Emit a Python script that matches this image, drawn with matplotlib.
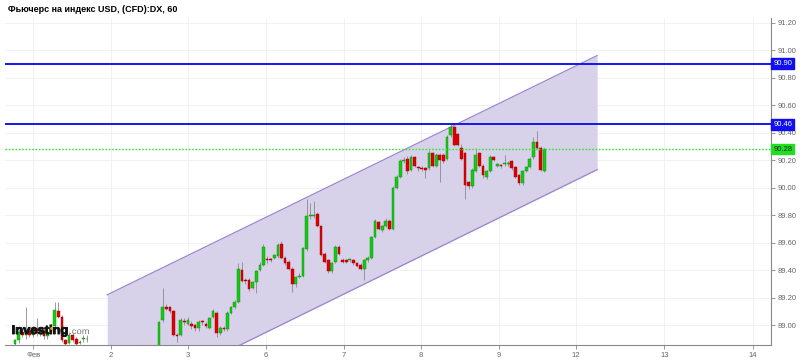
import numpy as np
import matplotlib
matplotlib.use("Agg")
import matplotlib.pyplot as plt
from matplotlib.textpath import TextPath
from matplotlib.patches import PathPatch
from matplotlib.font_manager import FontProperties
from matplotlib.lines import Line2D
import matplotlib.transforms as mtransforms

plt.rcParams['font.family'] = ['Liberation Sans', 'DejaVu Sans']

title = "Фьючерс на индекс USD, (CFD):DX, 60"

# первая сессия (1 фев), потом дыра в данных, потом основной кусок
open_a = [88.86, 88.89, 88.95, 88.93, 88.96, 88.93, 88.97, 88.94, 88.96, 88.92, 88.95,
          88.99, 89.10, 89.06, 88.89, 88.87, 88.93, 88.90, 88.87, 88.90, 88.90]
high_a = [88.90, 88.97, 88.97, 89.13, 88.98, 88.99, 89.05, 88.98, 88.98, 88.96, 89.01,
          89.17, 89.17, 89.07, 88.90, 88.95, 88.94, 88.91, 88.89, 88.93, 88.93]
low_a = [88.85, 88.87, 88.91, 88.90, 88.91, 88.91, 88.92, 88.92, 88.90, 88.90, 88.94,
         88.98, 89.05, 88.88, 88.85, 88.86, 88.88, 88.85, 88.86, 88.88, 88.88]
close_a = [88.89, 88.95, 88.93, 88.96, 88.93, 88.97, 88.94, 88.96, 88.92, 88.95, 88.99,
           89.11, 89.06, 88.89, 88.86, 88.93, 88.89, 88.86, 88.875, 88.905, 88.895]
gap_len = 19

open_b = [88.84, 89.04, 89.13, 89.13, 89.10, 88.93, 88.93, 89.03, 89.01, 89.01,
          89.00, 88.98, 89.03, 89.01, 88.98, 89.06, 89.09, 88.94, 88.98, 88.97,
          89.09, 89.13, 89.17, 89.40, 89.33, 89.33, 89.27, 89.31, 89.40, 89.44,
          89.48, 89.48, 89.49, 89.50, 89.59, 89.49, 89.46, 89.41, 89.30, 89.35,
          89.36, 89.55, 89.79, 89.79, 89.81, 89.72, 89.52, 89.47, 89.39, 89.46,
          89.57, 89.47, 89.47, 89.47, 89.47, 89.45, 89.44, 89.41, 89.47, 89.49,
          89.64, 89.75, 89.69, 89.72, 89.76, 89.70, 90.00, 90.08, 90.19, 90.21,
          90.13, 90.22, 90.15, 90.145, 90.14, 90.14, 90.25, 90.16, 90.24, 90.24,
          90.21, 90.38, 90.44, 90.39, 90.29, 90.25, 90.04, 90.01, 90.12, 90.25,
          90.16, 90.08, 90.12, 90.22, 90.16, 90.16, 90.17, 90.17, 90.19, 90.15,
          90.09, 90.03, 90.12, 90.15, 90.22, 90.33, 90.29, 90.12]
high_b = [89.03, 89.27, 89.15, 89.14, 89.11, 88.94, 89.05, 89.05, 89.06, 89.03,
          89.01, 89.04, 89.04, 89.02, 89.06, 89.12, 89.10, 88.99, 88.99, 89.10,
          89.14, 89.18, 89.45, 89.46, 89.34, 89.34, 89.32, 89.40, 89.46, 89.59,
          89.50, 89.49, 89.52, 89.60, 89.61, 89.50, 89.47, 89.42, 89.36, 89.38,
          89.57, 89.92, 89.89, 89.90, 89.82, 89.73, 89.53, 89.48, 89.46, 89.58,
          89.58, 89.49, 89.48, 89.49, 89.48, 89.46, 89.45, 89.48, 89.50, 89.65,
          89.77, 89.76, 89.73, 89.78, 89.77, 90.01, 90.09, 90.21, 90.22, 90.23,
          90.24, 90.23, 90.16, 90.16, 90.15, 90.27, 90.26, 90.25, 90.25, 90.25,
          90.38, 90.47, 90.45, 90.40, 90.32, 90.26, 90.05, 90.14, 90.29, 90.26,
          90.17, 90.13, 90.24, 90.23, 90.18, 90.17, 90.24, 90.19, 90.20, 90.16,
          90.10, 90.13, 90.16, 90.22, 90.37, 90.41, 90.30, 90.29]
low_b = [88.82, 89.02, 89.11, 89.09, 88.92, 88.88, 88.92, 89.00, 89.00, 88.97,
         88.96, 88.96, 89.00, 88.98, 88.97, 89.05, 88.91, 88.93, 88.96, 88.96,
         89.08, 89.12, 89.16, 89.31, 89.30, 89.25, 89.26, 89.23, 89.39, 89.43,
         89.45, 89.46, 89.48, 89.49, 89.48, 89.44, 89.40, 89.24, 89.28, 89.34,
         89.35, 89.54, 89.77, 89.78, 89.71, 89.50, 89.45, 89.38, 89.38, 89.45,
         89.51, 89.45, 89.45, 89.46, 89.44, 89.42, 89.40, 89.33, 89.46, 89.48,
         89.63, 89.69, 89.68, 89.71, 89.69, 89.69, 89.99, 90.07, 90.18, 90.10,
         90.12, 90.15, 90.12, 90.12, 90.07, 90.13, 90.15, 90.15, 90.04, 90.18,
         90.20, 90.37, 90.30, 90.30, 90.20, 89.92, 89.99, 90.00, 90.11, 90.15,
         90.07, 90.06, 90.11, 90.19, 90.15, 90.14, 90.16, 90.16, 90.13, 90.07,
         90.02, 90.02, 90.11, 90.14, 90.21, 90.28, 90.12, 90.11]
close_b = [89.02, 89.13, 89.12, 89.10, 88.93, 88.92, 89.04, 89.02, 89.04, 88.99,
           88.98, 89.02, 89.02, 88.99, 89.05, 89.10, 88.94, 88.98, 88.97, 89.09,
           89.13, 89.17, 89.41, 89.32, 89.32, 89.26, 89.31, 89.39, 89.44, 89.57,
           89.47, 89.47, 89.51, 89.58, 89.49, 89.45, 89.41, 89.30, 89.35, 89.36,
           89.56, 89.79, 89.80, 89.80, 89.72, 89.51, 89.46, 89.39, 89.45, 89.57,
           89.52, 89.46, 89.46, 89.48, 89.45, 89.43, 89.41, 89.47, 89.49, 89.64,
           89.76, 89.70, 89.72, 89.76, 89.70, 90.00, 90.08, 90.19, 90.20, 90.12,
           90.22, 90.16, 90.14, 90.135, 90.13, 90.25, 90.16, 90.24, 90.20, 90.19,
           90.37, 90.44, 90.31, 90.31, 90.21, 90.02, 90.01, 90.13, 90.24, 90.16,
           90.09, 90.12, 90.22, 90.20, 90.17, 90.155, 90.18, 90.18, 90.14, 90.08,
           90.03, 90.12, 90.15, 90.21, 90.33, 90.29, 90.13, 90.28]

day_labels = ["Фев", "2", "3", "6", "7", "8", "9", "12", "13", "14"]
day_pos = [5.0, 26.7, 48.1, 69.7, 91.3, 112.8, 134.3, 155.8, 180.4, 205.0]
price_ticks = [89.0, 89.2, 89.4, 89.6, 89.8, 90.0, 90.2, 90.4, 90.6, 90.8, 91.0, 91.2]

# канал
chan_x = [25.6, 161.7]
chan_top = [89.22, 90.96]
chan_bot = [88.38, 90.13]

resist_levels = [90.90, 90.46]
last_price = 90.28

nan_gap = [np.nan] * gap_len
o = np.array(open_a + nan_gap + open_b)
h = np.array(high_a + nan_gap + high_b)
l = np.array(low_a + nan_gap + low_b)
c = np.array(close_a + nan_gap + close_b)
x = np.arange(len(o))
ok = ~np.isnan(o)
up = c >= o

fig = plt.figure(figsize=(8, 3.6), dpi=100)
ax = fig.add_axes([5 / 800, 15 / 360, 766 / 800, 327 / 360])

ax.set_xlim(-2.8, 210)
ax.set_ylim(88.855, 91.233)

ax.fill_between(chan_x, chan_bot, chan_top, color='#d8d1ea', lw=0, zorder=1)
ax.plot(chan_x, chan_top, color='#9a85d0', lw=0.9, zorder=2)
ax.plot(chan_x, chan_bot, color='#9a85d0', lw=0.9, zorder=2)

for lev in resist_levels:
    ax.axhline(lev, color='#1515f0', lw=1.4, zorder=5)
ax.axhline(last_price, color='#2ee82e', lw=1.0, ls=(0, (1.2, 1.2)), zorder=5)

ax.vlines(x[ok], l[ok], h[ok], color='#8a8a8a', lw=0.6, zorder=3)
body_lo = np.minimum(o, c)
body_h = np.maximum(np.abs(c - o), 0.006)
w = 0.75
ax.bar(x[ok & up], body_h[ok & up], bottom=body_lo[ok & up], width=w,
       color='#11cc11', edgecolor='#0a8a0a', lw=0.3, zorder=4)
ax.bar(x[ok & ~up], body_h[ok & ~up], bottom=body_lo[ok & ~up], width=w,
       color='#e00000', edgecolor='#990000', lw=0.3, zorder=4)

ax.set_yticks(price_ticks)
ax.set_yticklabels(['%.2f' % p for p in price_ticks])
ax.set_xticks(day_pos)
ax.set_xticklabels(day_labels)
ax.yaxis.tick_right()
ax.grid(True, color='#efefef', lw=0.6, zorder=0)
ax.set_axisbelow(True)
ax.tick_params(axis='both', colors='#888888', labelcolor='#666666',
               labelsize=5.5, length=3, width=0.6, pad=2)
for s in ['left', 'top']:
    ax.spines[s].set_visible(False)
for s in ['right', 'bottom']:
    ax.spines[s].set_color('#888888')
    ax.spines[s].set_linewidth(0.8)

# ярлыки цен справа
trans = mtransforms.blended_transform_factory(ax.transAxes, ax.transData)
for lev in resist_levels:
    ax.text(1.003, lev, '%.2f' % lev, transform=trans, fontsize=5.5, color='white',
            va='center', ha='left', zorder=10, clip_on=False,
            bbox=dict(boxstyle='square,pad=0.25', fc='#1010ee', ec='#1010ee'))
ax.text(1.003, last_price, '%.2f' % last_price, transform=trans, fontsize=5.5,
        color='#113311', va='center', ha='left', zorder=10, clip_on=False,
        bbox=dict(boxstyle='square,pad=0.25', fc='#22dd22', ec='#22dd22'))

fig.text(8 / 800, 1 - 10 / 360, title, fontsize=6.5, weight='bold', va='center', ha='left')

# водяной знак Investing.com
def squeezed(txt, px, py, target_w, size, color, weight, stroke):
    tp = TextPath((0, 0), txt, size=size, prop=FontProperties(family='Liberation Sans', weight=weight))
    bb = tp.get_extents()
    sx = target_w / bb.width
    tr = mtransforms.Affine2D().scale(sx, 1).translate(px - bb.x0 * sx, py)
    fig.add_artist(PathPatch(tp, transform=tr, fc=color, ec=color, lw=stroke, zorder=20))

squeezed("Investing", 12.5, 360 - 334, 55, 12.5, '#111111', 'bold', 0.7)
squeezed(".com", 70, 360 - 334, 19, 8.5, '#777777', 'normal', 0)
fig.add_artist(Line2D([50.7 / 800], [(360 - 327.5) / 360], marker='o', markersize=2.0,
                      color='#f5a000', mec='none', transform=fig.transFigure, zorder=21))

fig.savefig('out.png', dpi=100)
